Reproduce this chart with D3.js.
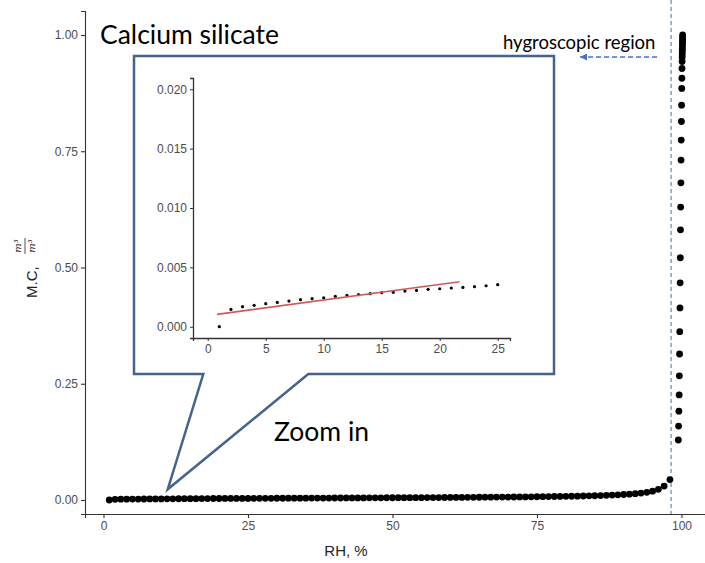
<!DOCTYPE html>
<html>
<head>
<meta charset="utf-8">
<script src="https://cdn.jsdelivr.net/npm/d3@7"></script>
<style>
  html, body { margin: 0; padding: 0; background: #fff; }
  svg { display: block; }
</style>
</head>
<body>
<svg id="chart" width="705" height="563"></svg>
<script>
// ---------------- DATA ----------------
// main series: low RH range (RH 1..98)
const rhLow = [1,2,3,4,5,6,7,8,9,10,11,12,13,14,15,16,17,18,19,20,21,22,23,24,25,
  26,27,28,29,30,31,32,33,34,35,36,37,38,39,40,41,42,43,44,45,46,47,48,49,50,
  51,52,53,54,55,56,57,58,59,60,61,62,63,64,65,66,67,68,69,70,71,72,73,74,75,
  76,77,78,79,80,81,82,83,84,85,86,87,88,89,90,91,92,93,94,95,96,97,98];
const mcLow = [0.0000,0.0015,0.0017,0.0018,0.0019,0.0021,0.0022,0.0023,0.0024,0.0024,
  0.0026,0.0026,0.0027,0.0028,0.0029,0.0029,0.0030,0.0031,0.0032,0.0032,
  0.0033,0.0033,0.0034,0.0035,0.0035,0.0036,0.0036,0.0037,0.0037,0.0038,
  0.0038,0.0039,0.0039,0.0040,0.0040,0.0041,0.0041,0.0042,0.0042,0.0043,
  0.0043,0.0044,0.0044,0.0045,0.0045,0.0046,0.0046,0.0047,0.0048,0.0048,
  0.0049,0.0049,0.0050,0.0051,0.0051,0.0052,0.0053,0.0053,0.0054,0.0055,
  0.0056,0.0056,0.0057,0.0058,0.0059,0.0060,0.0061,0.0062,0.0063,0.0064,
  0.0065,0.0066,0.0067,0.0069,0.0070,0.0072,0.0073,0.0075,0.0077,0.0079,
  0.0081,0.0083,0.0086,0.0089,0.0092,0.0096,0.0100,0.0105,0.0111,0.0118,
  0.0126,0.0136,0.0150,0.0165,0.0190,0.0230,0.0300,0.0440];
// main series: hygroscopic column near RH 100
const rhHigh = [99.45,99.5,99.55,99.6,99.63,99.67,99.7,99.74,99.77,99.8,99.83,99.86,
  99.9,99.93,99.96,99.99,100.02,100.05,100.07,100.09,100.11,100.12,100.13,100.14,100.15,
  100.16,100.17,100.18,100.19,100.2,100.2,100.2];
const mcHigh = [0.129,0.159,0.191,0.226,0.267,0.314,0.362,0.413,0.467,0.521,0.581,0.630,
  0.682,0.731,0.774,0.814,0.849,0.885,0.907,0.928,0.943,0.952,0.958,0.964,0.969,
  0.974,0.979,0.984,0.988,0.992,0.996,1.000];
// inset series
const rhInset = [1,2,3,4,5,6,7,8,9,10,11,12,13,14,15,16,17,18,19,20,21,22,23,24,25];
const mcInset = [0.0000,0.00146,0.00169,0.00180,0.00194,0.00205,0.00216,0.00228,0.00236,0.00244,
  0.00256,0.00264,0.00270,0.00278,0.00287,0.00290,0.00300,0.00306,0.00315,0.00320,
  0.00326,0.00331,0.00337,0.00345,0.00354];
// linear fit drawn in inset (endpoints)
const fitRh = [0.8, 21.7];
const fitMc = [0.00104, 0.00379];

const xTicks = [0,25,50,75,100];
const yTicks = [0,0.25,0.5,0.75,1.0];
const insetXTicks = [0,5,10,15,20,25];
const insetYTicks = [0,0.005,0.01,0.015,0.02];
const hygroRh = 98.2;

const titleText = "Calcium silicate";
const zoomText = "Zoom in";
const regionText = "hygroscopic region";

// ---------------- DRAW ----------------
const svg = d3.select("#chart");
const fontUI = "'Liberation Sans', Arial, sans-serif";
const fontCal = "Lato, 'Open Sans', sans-serif";

const x = d3.scaleLinear().domain([-3.2, 104.07]).range([85, 705]);
const y = d3.scaleLinear().domain([-0.0301, 1.0516]).range([514, 11]);

// hygroscopic dashed line
svg.append("line")
  .attr("x1", x(hygroRh)).attr("x2", x(hygroRh))
  .attr("y1", 0).attr("y2", 514)
  .attr("stroke", "#4a7ebb").attr("stroke-width", 1.1)
  .attr("stroke-dasharray", "4,3");

// axes
const xAxis = svg.append("g").attr("transform", "translate(0,514)")
  .call(d3.axisBottom(x).tickValues(xTicks).tickSize(4).tickPadding(3).tickFormat(d3.format("d")));
const yAxis = svg.append("g").attr("transform", "translate(85,0)")
  .call(d3.axisLeft(y).tickValues(yTicks).tickSize(4).tickPadding(3).tickFormat(d3.format(".2f")));
[xAxis, yAxis].forEach(g => {
  g.select(".domain").attr("stroke", "#333").attr("stroke-width", 1.1);
  g.selectAll(".tick line").attr("stroke", "#333").attr("stroke-width", 1.1);
  g.selectAll(".tick text").attr("fill", "#4d4d4d").style("font-family", fontUI).style("font-size", "12px");
});

// axis titles
svg.append("text").attr("x", 346).attr("y", 556)
  .attr("text-anchor", "middle").style("font-family", fontUI).style("font-size", "15px")
  .attr("fill", "#222").text("RH, %");

const yl = svg.append("g").attr("transform", "translate(0,268) rotate(-90)");
yl.append("text").attr("x", -30).attr("y", 37)
  .style("font-family", fontUI).style("font-size", "15px").attr("fill", "#222").text("M.C,");
yl.append("text").attr("x", 22).attr("y", 21).attr("text-anchor", "middle")
  .style("font-family", "'DejaVu Serif', serif").style("font-style", "italic").style("font-size", "10px")
  .attr("fill", "#222").text("m³");
yl.append("line").attr("x1", 14).attr("x2", 30).attr("y1", 25).attr("y2", 25)
  .attr("stroke", "#222").attr("stroke-width", 0.8);
yl.append("text").attr("x", 22).attr("y", 35).attr("text-anchor", "middle")
  .style("font-family", "'DejaVu Serif', serif").style("font-style", "italic").style("font-size", "10px")
  .attr("fill", "#222").text("m³");

// points
const pts = rhLow.map((r, i) => ({r, m: mcLow[i]}))
  .concat(rhHigh.map((r, i) => ({r, m: mcHigh[i]})));
svg.append("g").selectAll("circle").data(pts).join("circle")
  .attr("cx", d => x(d.r)).attr("cy", d => y(d.m)).attr("r", 3.4).attr("fill", "#000");

// callout box
const blue = "#44648f";
const pathPts = [[134,56],[554,56],[554,374],[308.3,374],[167.7,489.3],[203.3,374],[134,374]];
svg.append("path")
  .attr("d", d3.line()(pathPts) + "Z")
  .attr("fill", "#fff").attr("stroke", blue).attr("stroke-width", 2.5)
  .attr("stroke-linejoin", "miter");

// inset
const ix = d3.scaleLinear().domain([-1.27, 26.06]).range([193, 510]);
const iy = d3.scaleLinear().domain([-0.00095, 0.02095]).range([338, 78]);
const ixAxis = svg.append("g").attr("transform", "translate(0,338)")
  .call(d3.axisBottom(ix).tickValues(insetXTicks).tickSize(3).tickPadding(3).tickFormat(d3.format("d")));
const iyAxis = svg.append("g").attr("transform", "translate(193,0)")
  .call(d3.axisLeft(iy).tickValues(insetYTicks).tickSize(3).tickPadding(3).tickFormat(d3.format(".3f")));
[ixAxis, iyAxis].forEach(g => {
  g.select(".domain").attr("stroke", "#333").attr("stroke-width", 1.3);
  g.selectAll(".tick line").attr("stroke", "#333");
  g.selectAll(".tick text").attr("fill", "#4d4d4d").style("font-family", fontUI).style("font-size", "12px");
});
svg.append("g").selectAll("circle").data(rhInset.map((r, i) => ({r, m: mcInset[i]}))).join("circle")
  .attr("cx", d => ix(d.r)).attr("cy", d => iy(d.m)).attr("r", 1.6).attr("fill", "#000");
svg.append("line")
  .attr("x1", ix(fitRh[0])).attr("y1", iy(fitMc[0]))
  .attr("x2", ix(fitRh[1])).attr("y2", iy(fitMc[1]))
  .attr("stroke", "#d05a5a").attr("stroke-width", 1.6);

// annotation texts
svg.append("text").attr("x", 100).attr("y", 44)
  .style("font-family", fontCal).style("font-size", "26.5px").attr("fill", "#000").text(titleText);
svg.append("text").attr("x", 274).attr("y", 441)
  .style("font-family", fontCal).style("font-size", "26.5px").attr("fill", "#000").text(zoomText);
svg.append("text").attr("x", 503).attr("y", 49)
  .style("font-family", fontCal).style("font-size", "18.5px").attr("fill", "#000").text(regionText);

// arrow to hygroscopic region
const defs = svg.append("defs");
defs.append("marker").attr("id", "arr").attr("viewBox", "0 0 10 10")
  .attr("refX", 10).attr("refY", 5).attr("markerWidth", 7).attr("markerHeight", 7)
  .attr("orient", "auto").attr("markerUnits", "userSpaceOnUse")
  .append("path").attr("d", "M0,0 L10,5 L0,10 Z").attr("fill", "#4472c4");
svg.append("line").attr("x1", x(hygroRh) - 14).attr("x2", 580).attr("y1", 57).attr("y2", 57)
  .attr("stroke", "#4472c4").attr("stroke-width", 1.5).attr("stroke-dasharray", "5,3")
  .attr("marker-end", "url(#arr)");
</script>
</body>
</html>
